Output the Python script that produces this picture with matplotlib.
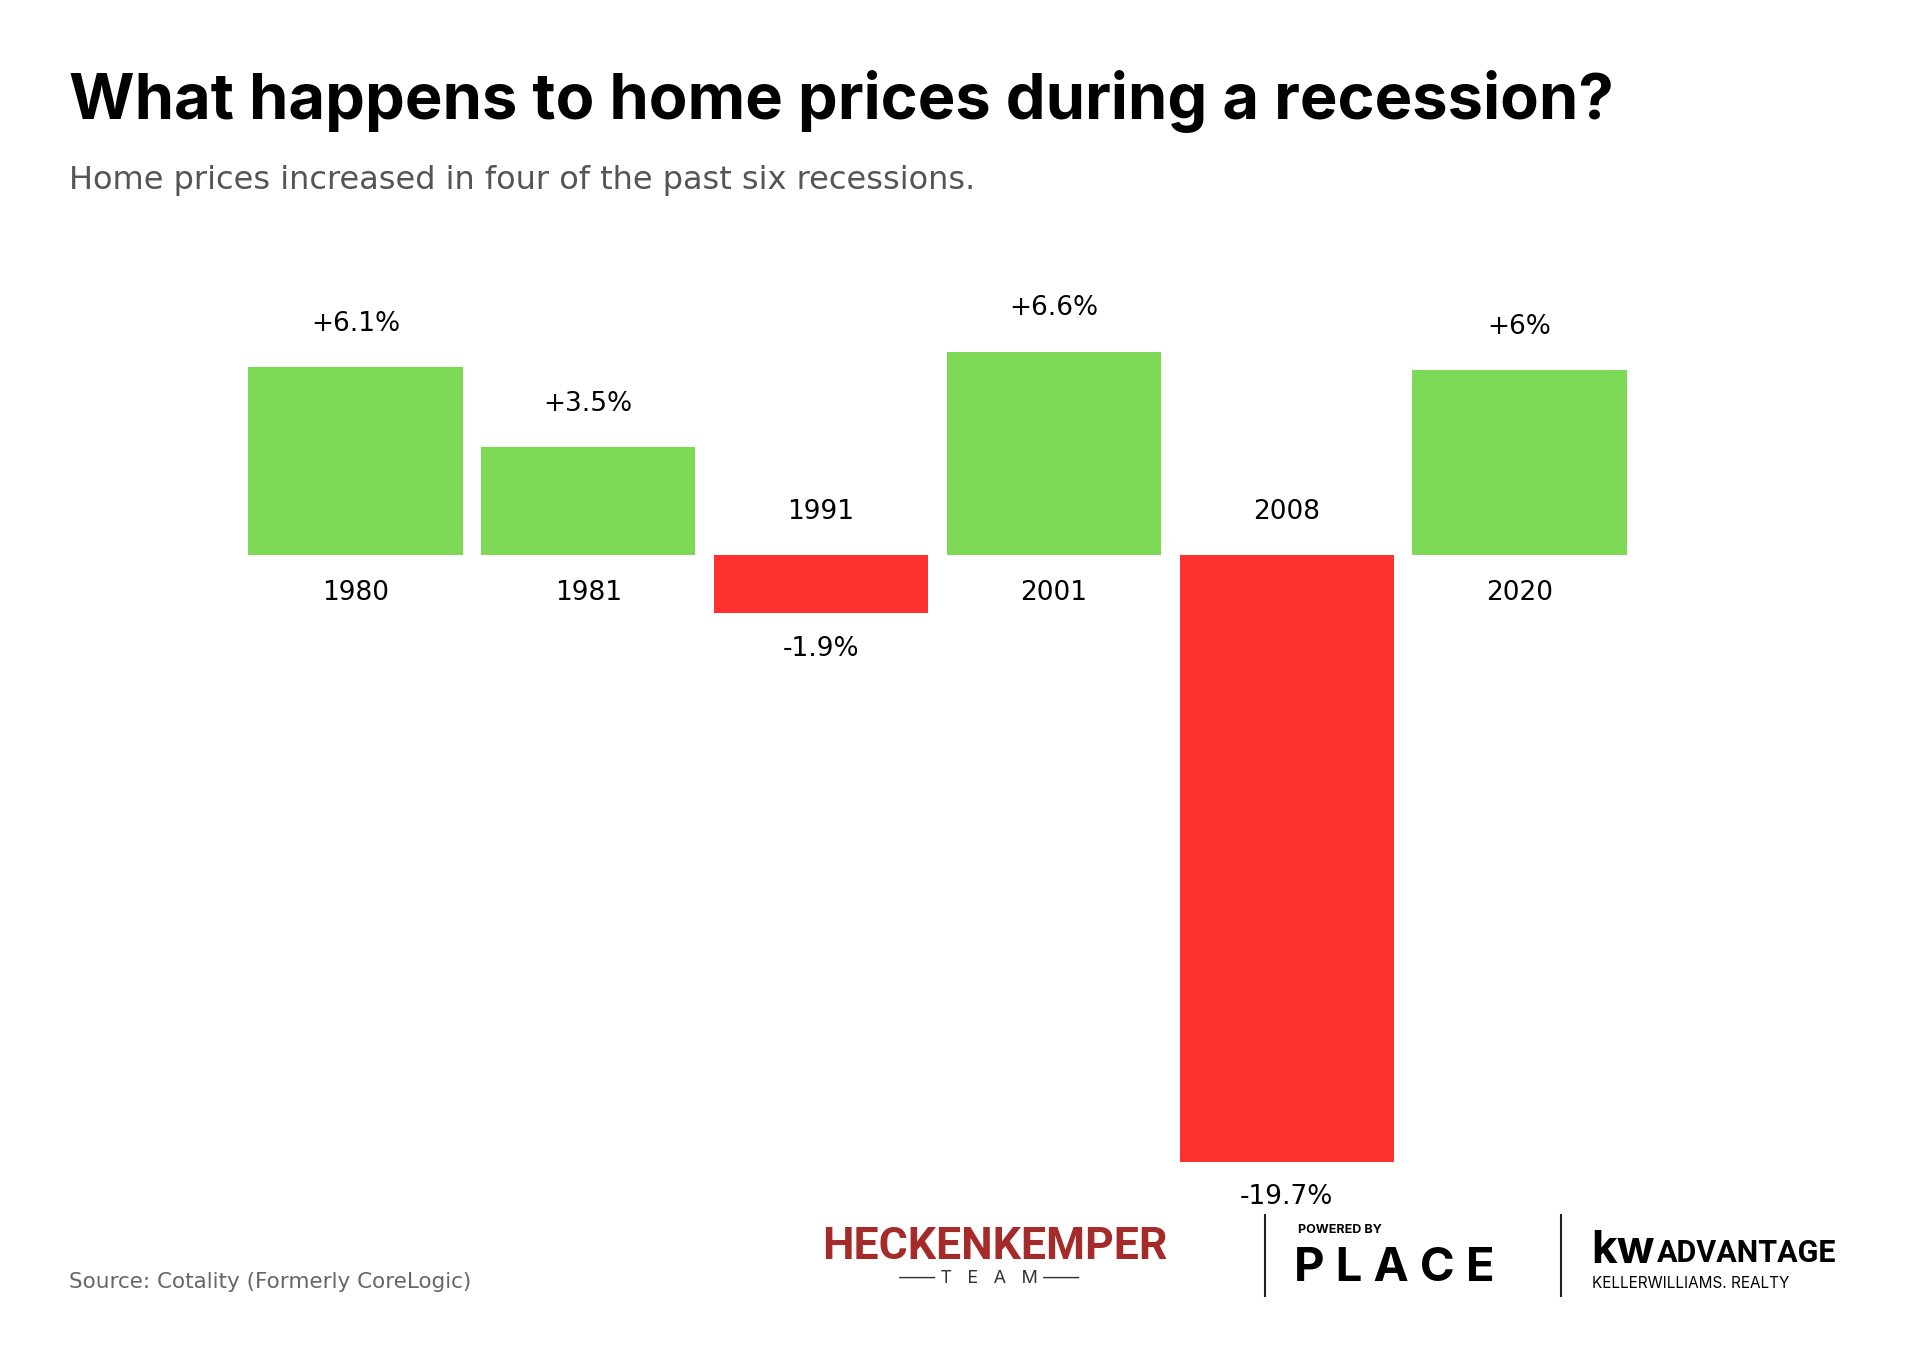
import matplotlib.pyplot as plt

years = ["1980", "1981", "1991", "2001", "2008", "2020"]
changes = [6.1, 3.5, -1.9, 6.6, -19.7, 6.0]
value_labels = ["+6.1%", "+3.5%", "-1.9%", "+6.6%", "-19.7%", "+6%"]

GREEN = "#7ed957"
RED = "#ff3131"
FONT = "Inter"
LABEL_FONT = "DejaVu Sans"

fig = plt.figure(figsize=(19.2, 13.5), dpi=100)
fig.patch.set_facecolor("white")

# titles
fig.text(0.036, 0.925, "What happens to home prices during a recession?",
         fontsize=45.5, fontweight="bold", family=FONT, va="center")
fig.text(0.036, 0.866, "Home prices increased in four of the past six recessions.",
         fontsize=23, color="#555555", family=LABEL_FONT, va="center")
fig.text(0.036, 0.05, "Source: Cotality (Formerly CoreLogic)",
         fontsize=15.5, color="#666666", family=LABEL_FONT, va="center")

ax = fig.add_axes([0.1245, 0.1327, 0.7275, 0.616])
colors = [GREEN if v > 0 else RED for v in changes]
ax.bar(range(len(years)), changes, width=0.92, color=colors)
ax.set_xlim(-0.5, len(years) - 0.5)
ax.set_ylim(-20, 7)
ax.axis("off")

for i, (y, v, lab) in enumerate(zip(years, changes, value_labels)):
    if v > 0:
        ax.text(i, v + 1.4, lab, ha="center", va="center", fontsize=19, family=LABEL_FONT)
        ax.text(i, -1.25, y, ha="center", va="center", fontsize=19, family=LABEL_FONT)
    else:
        ax.text(i, 1.4, y, ha="center", va="center", fontsize=19, family=LABEL_FONT)
        ax.text(i, v - 1.15, lab, ha="center", va="center", fontsize=19, family=LABEL_FONT)

# logo block (text approximations)
fig.text(0.428, 0.076, "HECKENKEMPER", fontsize=32, fontweight="bold",
         color="#a52a2a", family="Roboto", va="center")
fig.text(0.515, 0.053, "—— T   E   A   M ——", fontsize=13, color="#333333", family=FONT,
         va="center", ha="center")
fig.add_artist(plt.Line2D([0.659, 0.659], [0.04, 0.1], color="#222222", lw=1.5))
fig.text(0.676, 0.089, "POWERED BY", fontsize=9, fontweight="bold", family=FONT, va="center")
fig.text(0.674, 0.06, "P L A C E", fontsize=34, fontweight="bold", family=FONT, va="center")
fig.add_artist(plt.Line2D([0.813, 0.813], [0.04, 0.1], color="#222222", lw=1.5))
fig.text(0.829, 0.073, "kw", fontsize=32, fontweight="bold", family=FONT, va="center")
fig.text(0.863, 0.072, "ADVANTAGE", fontsize=22, fontweight="bold", family="Roboto",
         va="center")
fig.text(0.829, 0.049, "KELLERWILLIAMS. REALTY", fontsize=11, family=FONT, va="center")

fig.savefig("out.png", dpi=100)
